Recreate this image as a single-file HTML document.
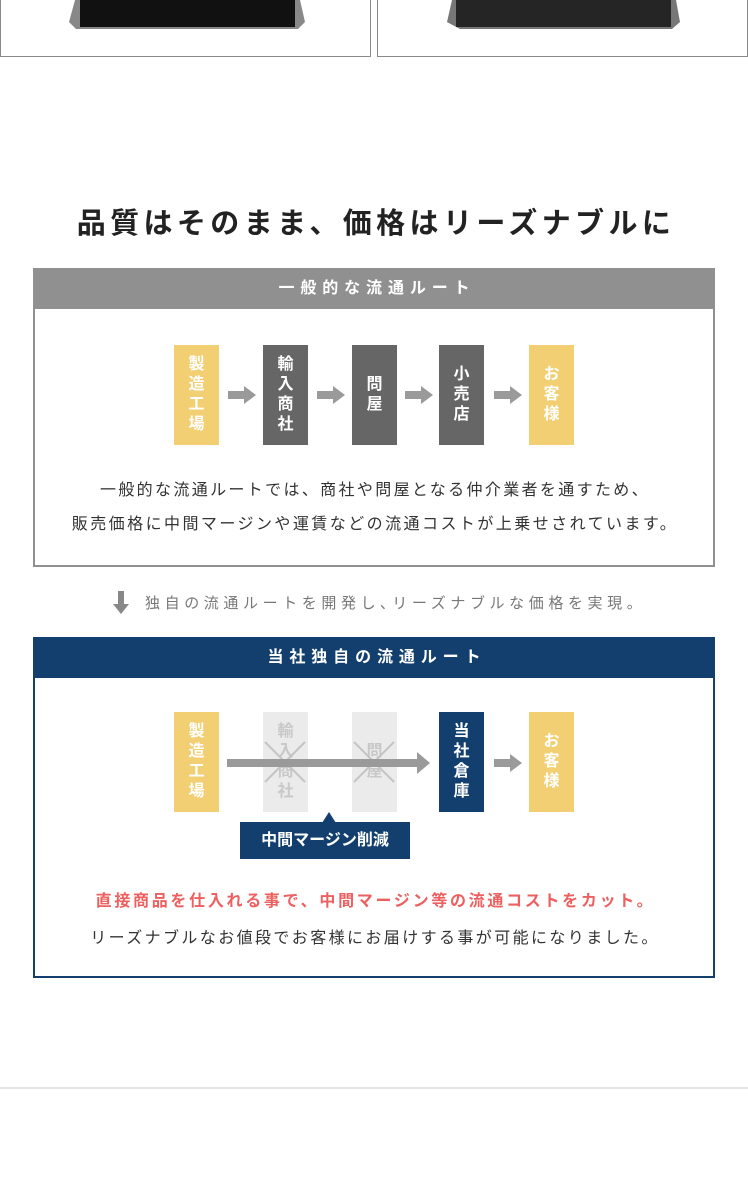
<!DOCTYPE html>
<html><head><meta charset="utf-8"><style>
*{margin:0;padding:0;box-sizing:border-box}
body{width:748px;height:1198px;background:#fff;position:relative;overflow:hidden;font-family:"Liberation Sans","Noto Sans CJK JP",sans-serif;color:#333}
.a{position:absolute}
.node{position:absolute;width:45px;height:100px;color:#fff;font-size:16px;font-weight:bold;display:flex;flex-direction:column;align-items:center;justify-content:center;line-height:20px}
.y{background:#f1cf72}.g{background:#666}.n{background:#123f6e}.l{background:#ebebeb;color:#c8c8c8}
.c{text-align:center;left:0;width:748px;white-space:nowrap}
</style></head><body>
<div class="a" style="left:0;top:-4px;width:371px;height:61px;border:1px solid #888;border-top:none"></div>
<div class="a" style="left:377px;top:-4px;width:371px;height:61px;border:1px solid #888;border-top:none"></div>
<svg class="a" style="left:0;top:0" width="748" height="40">
<polygon points="75,0 300,0 305,22 298,29 76,29 69,22" fill="#888"/>
<rect x="80" y="0" width="215" height="27" fill="#111"/>
<polygon points="452,0 676,0 680,22 672,29 460,29 447,22" fill="#777"/>
<rect x="456" y="0" width="215" height="27" fill="#252525"/>
</svg>
<div class="a c" style="top:200px;font-size:29px;font-weight:bold;color:#222;letter-spacing:4.4px;padding-left:4px">品質はそのまま、価格はリーズナブルに</div>

<div class="a" style="left:33px;top:268px;width:682px;height:299px;border:2px solid #909090"></div>
<div class="a" style="left:33px;top:268px;width:682px;height:41px;background:#909090;color:#fff;font-size:16px;font-weight:bold;text-align:center;line-height:41px;letter-spacing:5.9px;padding-left:6px">一般的な流通ルート</div>
<div class="node y" style="left:174px;top:345px">製<br>造<br>工<br>場</div>
<div class="node g" style="left:263px;top:345px">輸<br>入<br>商<br>社</div>
<div class="node g" style="left:352px;top:345px">問<br>屋</div>
<div class="node g" style="left:439px;top:345px">小<br>売<br>店</div>
<div class="node y" style="left:529px;top:345px">お<br>客<br>様</div>
<svg class="a" style="left:0;top:385px" width="748" height="20">
<g fill="#9a9a9a">
<polygon points="228,6 244,6 244,1 256,10 244,19 244,14 228,14"/>
<polygon points="317,6 333,6 333,1 345,10 333,19 333,14 317,14"/>
<polygon points="405,6 421,6 421,1 433,10 421,19 421,14 405,14"/>
<polygon points="494,6 510,6 510,1 522,10 510,19 510,14 494,14"/>
</g></svg>
<div class="a c" style="top:476px;font-size:16px;color:#333;letter-spacing:2.35px;padding-left:2px">一般的な流通ルートでは、商社や問屋となる仲介業者を通すため、</div>
<div class="a c" style="top:510px;font-size:16px;color:#333;letter-spacing:2.45px;padding-left:2px">販売価格に中間マージンや運賃などの流通コストが上乗せされています。</div>

<svg class="a" style="left:112px;top:591px" width="18" height="24"><polygon points="6,0 12,0 12,13 17,13 9,23 1,13 6,13" fill="#888"/></svg>
<div class="a" style="left:145px;top:592px;font-size:15px;color:#777;letter-spacing:4.6px;white-space:nowrap">独自の流通ルートを開発し､リーズナブルな価格を実現。</div>

<div class="a" style="left:33px;top:637px;width:682px;height:341px;border:2px solid #123f6e"></div>
<div class="a" style="left:33px;top:637px;width:682px;height:41px;background:#123f6e;color:#fff;font-size:16px;font-weight:bold;text-align:center;line-height:41px;letter-spacing:5.9px;padding-left:6px">当社独自の流通ルート</div>
<div class="node y" style="left:174px;top:712px">製<br>造<br>工<br>場</div>
<div class="node l" style="left:263px;top:712px">輸<br>入<br>商<br>社</div>
<div class="node l" style="left:352px;top:712px">問<br>屋</div>
<div class="node n" style="left:439px;top:712px">当<br>社<br>倉<br>庫</div>
<div class="node y" style="left:529px;top:712px">お<br>客<br>様</div>
<svg class="a" style="left:0;top:730px" width="748" height="60">
<g stroke="#c4c4c4" stroke-width="2"><line x1="265" y1="12" x2="305" y2="52"/><line x1="305" y1="12" x2="265" y2="52"/><line x1="354" y1="12" x2="394" y2="52"/><line x1="394" y1="12" x2="354" y2="52"/></g>
<g fill="#9a9a9a">
<polygon points="227,29 417,29 417,22 430,33 417,44 417,37 227,37"/>
<polygon points="494,29 510,29 510,24 522,33 510,42 510,37 494,37"/>
</g></svg>
<svg class="a" style="left:322px;top:812px" width="16" height="12"><polygon points="7,0 14,11 0,11" fill="#123f6e"/></svg>
<div class="a" style="left:240px;top:822px;width:170px;height:37px;background:#123f6e;color:#fff;font-size:16px;font-weight:bold;text-align:center;line-height:37px">中間マージン削減</div>
<div class="a c" style="top:887px;font-size:16px;font-weight:bold;color:#ee5f5f;letter-spacing:2.7px;padding-left:3px">直接商品を仕入れる事で、中間マージン等の流通コストをカット。</div>
<div class="a c" style="top:924px;font-size:16px;color:#333;letter-spacing:2.4px;padding-left:2px">リーズナブルなお値段でお客様にお届けする事が可能になりました。</div>

<div class="a" style="left:0;top:1087px;width:748px;height:2px;background:#e6e6e6"></div>
</body></html>
